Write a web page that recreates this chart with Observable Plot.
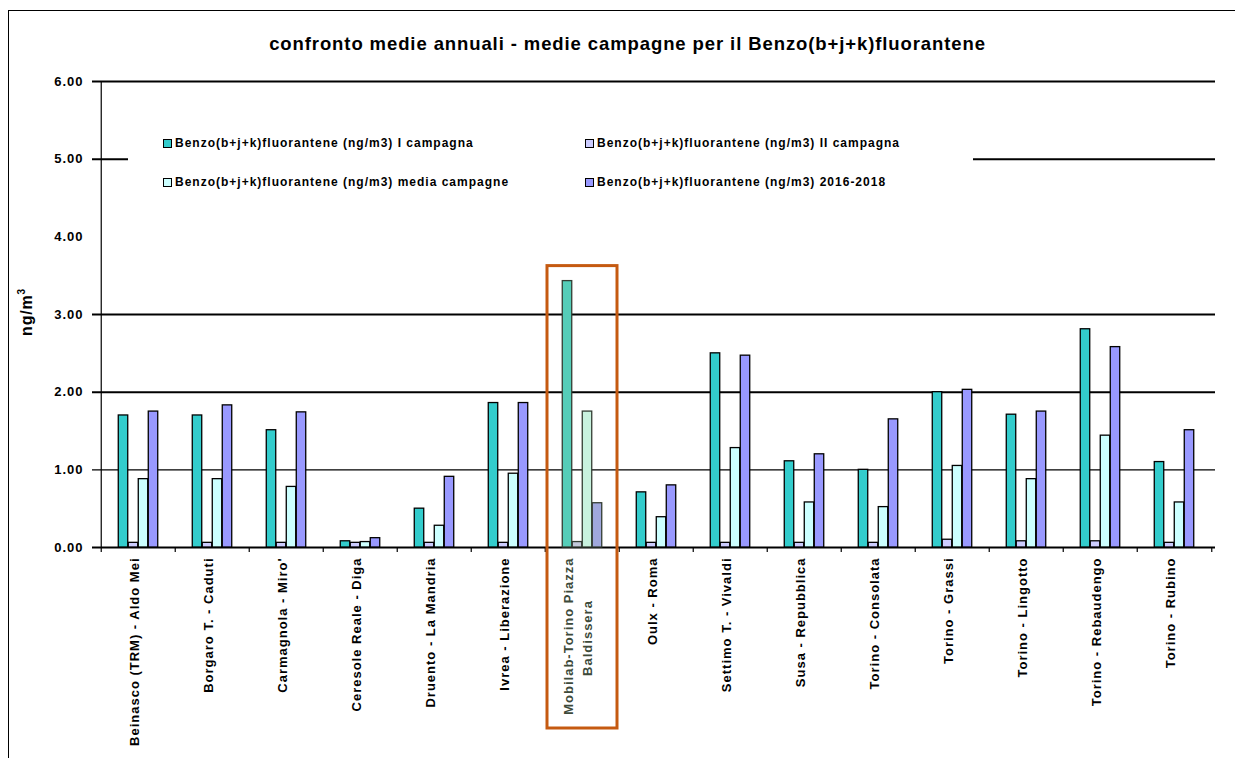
<!DOCTYPE html>
<html><head><meta charset="utf-8">
<script src="https://cdn.jsdelivr.net/npm/d3@7"></script>
<script src="https://cdn.jsdelivr.net/npm/@observablehq/plot@0.6"></script>
<style>
body{margin:0;background:#fff;font-family:"Liberation Sans",Arial,sans-serif;}
#wrap{position:relative;width:1235px;height:758px;overflow:hidden;background:#fff;}
#border{position:absolute;left:8px;top:10px;width:1300px;height:800px;border-left:1px solid #000;border-top:1px solid #000;}
#title{position:absolute;left:0;width:1255px;top:33px;text-align:center;font-weight:bold;font-size:18.5px;letter-spacing:0.9px;color:#000;}
#chart{position:absolute;left:0;top:60px;}
#legend{position:absolute;left:128px;top:118px;width:845px;height:82px;background:#fff;}
.item{position:absolute;font-weight:bold;font-size:12px;letter-spacing:1px;white-space:nowrap;line-height:12px;color:#000;}
.sw{display:inline-block;width:7px;height:7px;border:1px solid #000;margin-right:3px;vertical-align:-1px;}
#ylabel{position:absolute;left:26px;top:312px;transform:translate(-50%,-50%) rotate(-90deg);font-weight:bold;font-size:16px;letter-spacing:0.8px;white-space:nowrap;color:#000;}
#ylabel sup{font-size:10px;}
</style></head>
<body>
<div id="wrap">
  <div id="border"></div>
  <div id="title"></div>
  <div id="chart"></div>
  <div id="legend"></div>
  <div id="ylabel"></div>
</div>
<script>
const categories = ["Beinasco (TRM) - Aldo Mei", "Borgaro T. - Caduti", "Carmagnola - Miro'", "Ceresole Reale - Diga", "Druento - La Mandria", "Ivrea - Liberazione", "Mobilab-Torino Piazza Baldissera", "Oulx - Roma", "Settimo T. - Vivaldi", "Susa - Repubblica", "Torino - Consolata", "Torino - Grassi", "Torino - Lingotto", "Torino - Rebaudengo", "Torino - Rubino"];
const seriesNames = ["Benzo(b+j+k)fluorantene (ng/m3) I campagna", "Benzo(b+j+k)fluorantene (ng/m3) II campagna", "Benzo(b+j+k)fluorantene (ng/m3) media campagne", "Benzo(b+j+k)fluorantene (ng/m3) 2016-2018"];
const campagnaI     = [1.70, 1.70, 1.51, 0.08, 0.50, 1.86, 3.43, 0.71, 2.50, 1.11, 1.00, 2.00, 1.71, 2.81, 1.10];
const campagnaII    = [0.06, 0.06, 0.06, 0.06, 0.06, 0.06, 0.07, 0.06, 0.06, 0.06, 0.06, 0.10, 0.08, 0.08, 0.06];
const mediaCampagne = [0.88, 0.88, 0.78, 0.07, 0.28, 0.95, 1.75, 0.39, 1.28, 0.58, 0.52, 1.05, 0.88, 1.44, 0.58];
const media20162018 = [1.75, 1.83, 1.74, 0.12, 0.91, 1.86, 0.57, 0.80, 2.47, 1.20, 1.65, 2.03, 1.75, 2.58, 1.51];
const yTicks = [0, 1, 2, 3, 4, 5, 6];
const gridThick = [0, 2, 3, 5, 6];
const gridThin = [1];
const title = "confronto medie annuali - medie campagne per il Benzo(b+j+k)fluorantene";
const yLabelBase = "ng/m";
const yLabelSup = "3";
const highlight = "Mobilab-Torino Piazza Baldissera";
const highlightLines = ["Mobilab-Torino Piazza", "Baldissera"];

const colors = ["#33CCCC", "#CCCCFF", "#CCFFFF", "#9999FF"];
const hiColors = ["#55CDB8", "#C2C8DA", "#C8F2DE", "#A0A8DC"];
const seriesVals = [campagnaI, campagnaII, mediaCampagne, media20162018];

document.getElementById("title").textContent = title;
const yl = document.getElementById("ylabel");
yl.appendChild(document.createTextNode(yLabelBase));
const sup = document.createElement("sup");
sup.textContent = yLabelSup;
yl.appendChild(sup);

// legend
const leg = document.getElementById("legend");
const legPos = [[35, 19], [457, 19], [35, 58], [457, 58]];
seriesNames.forEach((n, i) => {
  const d = document.createElement("div");
  d.className = "item";
  d.style.left = legPos[i][0] + "px";
  d.style.top = legPos[i][1] + "px";
  d.innerHTML = `<span class="sw" style="background:${colors[i]}"></span>`;
  d.appendChild(document.createTextNode(n));
  leg.appendChild(d);
});

const W = 1235, H = 698, mL = 97, mR = 20, mT = 21, mB = 211;
const bw = (W - mL - mR) / categories.length;
const barW = 10;

const rows = [];
categories.forEach((c, i) => seriesVals.forEach((arr, s) => rows.push({cat: c, s, value: arr[i]})));

const marks = [];
marks.push(Plot.ruleY(gridThin, {stroke: "#000", strokeWidth: 1.2, insetLeft: -5}));
marks.push(Plot.ruleY(gridThick, {stroke: "#000", strokeWidth: 2, insetLeft: -5}));
// y axis line
marks.push(Plot.ruleX([categories[0]], {x: d => d, dx: -bw / 2, stroke: "#000", strokeWidth: 1.2}));
// category boundary ticks
marks.push(Plot.ruleX(categories, {x: d => d, dx: -bw / 2, y1: 0, y2: 0, insetBottom: -5, stroke: "#000", strokeWidth: 1.2}));
marks.push(Plot.ruleX([categories[categories.length - 1]], {x: d => d, dx: bw / 2, y1: 0, y2: 0, insetBottom: -5, stroke: "#000", strokeWidth: 1.2}));

for (let s = 0; s < 4; s++) {
  const off = (s - 1.5) * barW;
  marks.push(Plot.barY(rows.filter(r => r.s === s), {
    x: "cat", y: "value",
    fill: r => r.cat === highlight ? hiColors[s] : colors[s],
    stroke: r => r.cat === highlight ? "#333D33" : "#000",
    strokeWidth: 1.3,
    insetLeft: (bw - barW) / 2 + off,
    insetRight: (bw - barW) / 2 - off
  }));
}

// highlight box
const hiMax = d3.max(seriesVals, a => a[categories.indexOf(highlight)]);
marks.push(Plot.barY([highlight], {x: d => d, y1: 0, y2: hiMax, insetTop: -15, insetBottom: -181, insetLeft: 2, insetRight: 2, fill: "none", stroke: "#C55A11", strokeWidth: 3}));

// x labels
marks.push(Plot.text(categories.filter(c => c !== highlight), {x: d => d, frameAnchor: "bottom", dy: 10, rotate: -90, textAnchor: "end", fontSize: 13, fontWeight: "bold", fill: "#000"}));
marks.push(Plot.text([highlight], {x: d => d, text: () => highlightLines[0], frameAnchor: "bottom", dy: 10, dx: -9.5, rotate: -90, textAnchor: "end", fontSize: 13, fontWeight: "bold", fill: "#3D4A3A"}));
marks.push(Plot.text([highlight], {x: d => d, text: () => highlightLines[1], frameAnchor: "bottom", dy: 90.5, dx: 9.5, rotate: -90, textAnchor: "middle", fontSize: 13, fontWeight: "bold", fill: "#3D4A3A"}));

const chart = Plot.plot({
  width: W, height: H,
  marginLeft: mL, marginRight: mR, marginTop: mT, marginBottom: mB,
  style: {fontFamily: "'Liberation Sans', Arial, sans-serif", fontSize: "13px", fontWeight: "bold", letterSpacing: "1px", color: "#000", background: "transparent"},
  x: {domain: categories, padding: 0, axis: null},
  y: {domain: [0, 6], ticks: yTicks, tickFormat: d3.format(".2f"), tickSize: 0, tickPadding: 14, label: null},
  color: {type: "identity"},
  marks
});
document.getElementById("chart").appendChild(chart);
</script>
</body></html>
